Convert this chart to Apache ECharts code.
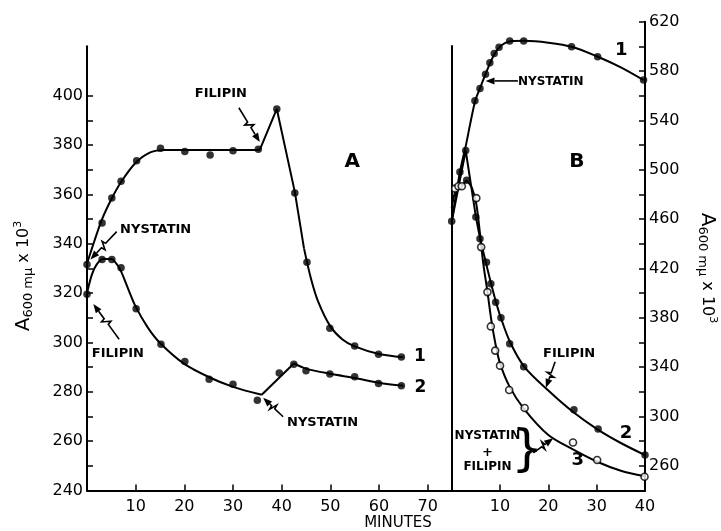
<!DOCTYPE html>
<html><head><meta charset="utf-8">
<script src="https://cdn.jsdelivr.net/npm/echarts@6/dist/echarts.min.js"></script>
<style>html,body{margin:0;padding:0;background:#fff}#c{width:721px;height:531px}</style>
</head><body><div id="c"></div>
<script>
// ---------- Panel A data (minutes, A600 x 10^3) ----------
const aCurve1Rise = [[0,332],[1.5,341],[3,349.5],[5,358],[7,365],[10,372.8],[13,377],[16,378],[35.5,378]];
const aCurve1Spike = [[35.5,378],[39,394.6],[42.7,361],[44.6,338]];
const aCurve1Fall = [[44.6,338],[46,326],[47.5,316.5],[50,306.5],[52.5,301.2],[55,298.4],[60,295.3],[65,294]];
const aCurve1Pts = [[0,331.6],[3.1,348.4],[5.1,358.5],[7,365.3],[10.2,373.6],[15.1,378.7],[20.1,377.4],[25.3,376],[30,377.7],[35.2,378.3],[39,394.6],[42.7,360.6],[45.2,332.5],[49.9,305.7],[55,298.6],[59.9,295.2],[64.6,294.1]];

const aCurve2Fall = [[0,320],[1,327.5],[2,331.6],[3.3,333.8],[5,333.8],[6,332],[7,328.8],[8.5,321.5],[10,314.5],[12.5,306],[15,299.8],[20,291.3],[25,286],[30,282],[35.9,278.8]];
const aCurve2Jump = [[35.9,278.8],[42.5,291.5]];
const aCurve2Tail = [[42.5,291.5],[45,289.4],[50,287.3],[55,285.6],[60,283.7],[65,282.4]];
const aCurve2Pts = [[0,319.5],[3.1,333.6],[5.1,333.6],[7,330.3],[10.1,313.6],[15.2,299.3],[20.1,292.3],[25.1,285.1],[30,283.1],[35,276.6],[39.5,287.6],[42.5,291.2],[45,288.5],[49.9,287.2],[55,286.1],[59.9,283.4],[64.6,282.4]];

// ---------- Panel B data ----------
const bCurve1Line = [[0,458],[1.7,498],[3,521],[4.8,555],[5.85,566],[7,577.5],[7.9,586],[8.8,593.5],[9.8,599],[11,602.6],[12.5,604.3],[15,604.5],[20,603],[25,599.5],[30,592],[35,583],[39.7,572.7]];
const bCurve1Pts = [[0,458.2],[1.7,498.2],[4.8,555.9],[5.85,565.9],[7,577.5],[7.9,586.7],[8.8,594.3],[9.8,599.2],[12,604.3],[14.9,604.3],[24.8,599.7],[30.2,591.6],[39.7,572.7]];

const bCurve2Peak = [[0,458],[2.9,515.5],[5,462]];
const bCurve2Line = [[5,462],[6,442],[7,426],[8,410],[9,395],[10,382],[12,361],[15,340.5],[20,321],[25,304],[30,290],[35,278.5],[40,268.7]];
const bCurve2Pts = [[2.9,515.5],[5,461.7],[5.85,444.1],[7.2,425.1],[8.1,407.6],[9.1,392.6],[10.2,380],[12,358.9],[14.9,340.4],[25.3,305.5],[30.3,289.8],[40,268.7]];

const bCurve3Rise = [[0,469],[0.7,482],[1.4,485.5],[2.1,487],[3.1,491.5]];
const bCurve3Line = [[3.1,491.5],[4.2,485],[5.1,472],[5.8,450],[6.5,425],[7.4,401],[8.2,378],[9,360],[10,343],[12,324],[15,306],[20,285],[25,273.5],[30,263.5],[35,256],[40,251.5]];
const bCurve3Pts = [[0.7,484.7],[1.4,486.6],[2.1,486.6],[5.1,477],[6.1,437.3],[7.4,400.8],[8.1,373],[9.0,353.4],[10,341.2],[11.9,321.5],[15.1,306.9],[25.1,278.9],[30.1,264.7],[39.9,251.1]];
const bCurve3PeakPt = [[3.1,491.5]];

// ---------- ticks / labels ----------
const aXTicks = [10,20,30,40,50,60,70];
const aYTicks = [250,260,270,280,290,300,310,320,330,340,350,360,370,380,390,400];
const aYLabels = [240,260,280,300,320,340,360,380,400];
const bXTicks = [10,20,30];
const bXLabels = [10,20,30,40];
const bYTicks = [260,280,300,320,340,360,380,400,420,440,460,480,500,520,540,560,580,600,620];
const bYLabels = [260,300,340,380,420,460,500,540,580,620];

const F = '"DejaVu Sans", sans-serif';
const chart = echarts.init(document.getElementById('c'));

function lineS(data, i, smooth, extra){
  return Object.assign({type:'line', xAxisIndex:i, yAxisIndex:i, data, smooth: smooth?0.3:false,
    showSymbol:false, symbol:'none', lineStyle:{color:'#000', width:2}, silent:true, z:2}, extra||{});
}
function dotS(data, i, open){
  return {type:'scatter', xAxisIndex:i, yAxisIndex:i, data, symbol:'circle', symbolSize: open?7:7.5,
    itemStyle: open?{color:'#fff', borderColor:'#000', borderWidth:1.6}:{color:'#000'}, silent:true, z:5};
}
function xAx(g, min, max, ticks, labels){
  return {gridIndex:g, type:'value', min, max,
    axisLine:{show:true, onZero:false, lineStyle:{color:'#000', width:2}},
    axisTick:{show:true, inside:true, length:6, customValues:ticks, lineStyle:{color:'#000', width:1.5}},
    axisLabel:{show:true, customValues:labels, color:'#000', fontSize:16, fontFamily:F, margin:8},
    splitLine:{show:false}};
}
function yAx(g, min, max, ticks, labels, pos){
  return {gridIndex:g, type:'value', min, max, position:pos,
    axisLine:{show:true, onZero:false, lineStyle:{color:'#000', width:2}},
    axisTick:{show:true, inside:true, length:6, customValues:ticks, lineStyle:{color:'#000', width:1.5}},
    axisLabel:{show:true, customValues:labels, color:'#000', fontSize:16, fontFamily:F, margin:4},
    splitLine:{show:false}};
}

chart.setOption({
  animation:false,
  backgroundColor:'#fff',
  grid:[
    {left:87, top:46.3, width:365, bottom:40.5},
    {left:451.7, top:21.7, right:76, bottom:40.5}
  ],
  xAxis:[xAx(0,0,75,aXTicks,aXTicks), xAx(1,0,40,bXTicks,bXLabels)],
  yAxis:[yAx(0,240,420,aYTicks,aYLabels,'left'), yAx(1,240,620,bYTicks,bYLabels,'right')],
  series:[
    lineS(aCurve1Rise,0,true), lineS(aCurve1Spike,0,false), lineS(aCurve1Fall,0,true),
    lineS(aCurve2Fall,0,true), lineS(aCurve2Jump,0,false), lineS(aCurve2Tail,0,true),
    dotS(aCurve1Pts,0,false), dotS(aCurve2Pts,0,false),
    lineS(bCurve1Line,1,true,{markLine:{silent:true, symbol:['none','none'], label:{show:false},
      lineStyle:{color:'#000', width:2, type:'solid'},
      data:[[{coord:[0,240]},{coord:[0,601]}]]}}),
    lineS(bCurve2Peak,1,false), lineS(bCurve2Line,1,true),
    lineS(bCurve3Rise,1,true), lineS(bCurve3Line,1,true),
    dotS(bCurve1Pts,1,false), dotS(bCurve2Pts,1,false), dotS(bCurve3Pts,1,true), dotS(bCurve3PeakPt,1,false)
  ]
});

// ---------- annotations (positioned in data coordinates) ----------
function px(g,p){ return chart.convertToPixel({gridIndex:g}, p); }
const gfx = [];
function txt(g,p,s,opt){
  const q = px(g,p);
  gfx.push({type:'text', x:q[0], y:q[1], z:20, style:Object.assign({text:s, fill:'#000',
    font:'bold 13px '+F, align:'left', verticalAlign:'middle'}, opt||{})});
}
function arrow(g,p0,p1,squig){
  const a=px(g,p0), b=px(g,p1);
  const dx=b[0]-a[0], dy=b[1]-a[1], L=Math.hypot(dx,dy), ux=dx/L, uy=dy/L, nx=-uy, ny=ux;
  const pts=[a];
  if(squig){
    const m1=[a[0]+dx*0.42,a[1]+dy*0.42], m2=[a[0]+dx*0.58,a[1]+dy*0.58];
    pts.push(m1,[m1[0]+nx*4+ux*1,m1[1]+ny*4+uy*1],[m2[0]-nx*4-ux*1,m2[1]-ny*4-uy*1],m2);
  }
  const base=[b[0]-ux*9,b[1]-uy*9];
  pts.push(base);
  gfx.push({type:'polyline', z:20, shape:{points:pts}, style:{stroke:'#000', lineWidth:1.6, fill:null}});
  gfx.push({type:'polygon', z:20, shape:{points:[b,[base[0]+nx*3.5,base[1]+ny*3.5],[base[0]-nx*3.5,base[1]-ny*3.5]]}, style:{fill:'#000'}});
}
// Panel A
txt(0,[27.5,400.7],'FILIPIN',{align:'center'});
arrow(0,[31.2,395.1],[35.5,381.2],true);
txt(0,[54.5,373.3],'A',{align:'center', font:'bold 20px '+F});
txt(0,[6.8,345.6],'NYSTATIN');
arrow(0,[6.1,344.9],[0.7,333.6],true);
txt(0,[1.0,295.3],'FILIPIN');
arrow(0,[6.6,301.3],[1.3,315.6],true);
txt(0,[41.1,267.5],'NYSTATIN');
arrow(0,[40.3,269.9],[36.2,277.6],true);
txt(0,[67.2,294.2],'1',{font:'bold 17px '+F});
txt(0,[67.3,281.7],'2',{font:'bold 17px '+F});
// Panel B
txt(1,[25.9,506.5],'B',{align:'center', font:'bold 20px '+F});
txt(1,[33.8,596.5],'1',{font:'bold 18px '+F});
txt(1,[13.7,571.5],'NYSTATIN',{font:'bold 12px '+F});
arrow(1,[13.7,572],[7.0,572],false);
txt(1,[24.3,350.6],'FILIPIN',{align:'center'});
arrow(1,[21.4,344.4],[19.5,323.2],true);
txt(1,[34.8,286.4],'2',{font:'bold 18px '+F});
txt(1,[24.8,264.2],'3',{font:'bold 18px '+F});
txt(1,[7.4,284.4],'NYSTATIN',{align:'center', font:'bold 12px '+F});
txt(1,[7.4,271.0],'+',{align:'center', font:'bold 13px '+F});
txt(1,[7.4,258.8],'FILIPIN',{align:'center', font:'bold 12px '+F});
txt(1,[15.6,271.5],'}',{align:'center', font:'50px '+F});
arrow(1,[16.9,270.5],[21.0,282.3],true);

// axis titles
const rich = {a:{fontSize:20, fontFamily:F, fill:'#000', verticalAlign:'middle'},
  s:{fontSize:13, fontFamily:F, fill:'#000', verticalAlign:'bottom', padding:[10,0,0,0]},
  x:{fontSize:16, fontFamily:F, fill:'#000'},
  p:{fontSize:11, fontFamily:F, fill:'#000', verticalAlign:'top', padding:[0,0,10,0]}};
const ttl = '{a|A}{s|600 mμ}{x| x 10}{p|3}';
gfx.push({type:'text', x:24, y:276, rotation:Math.PI/2, z:20,
  style:{text:ttl, rich, align:'center', verticalAlign:'middle', fill:'#000'}});
gfx.push({type:'text', x:707, y:268, rotation:-Math.PI/2, z:20,
  style:{text:ttl, rich, align:'center', verticalAlign:'middle', fill:'#000'}});
gfx.push({type:'text', x:398, y:523, z:20,
  style:{text:'MINUTES', font:'15px '+F, fill:'#000', align:'center', verticalAlign:'middle'}});

chart.setOption({graphic: gfx});
</script></body></html>
